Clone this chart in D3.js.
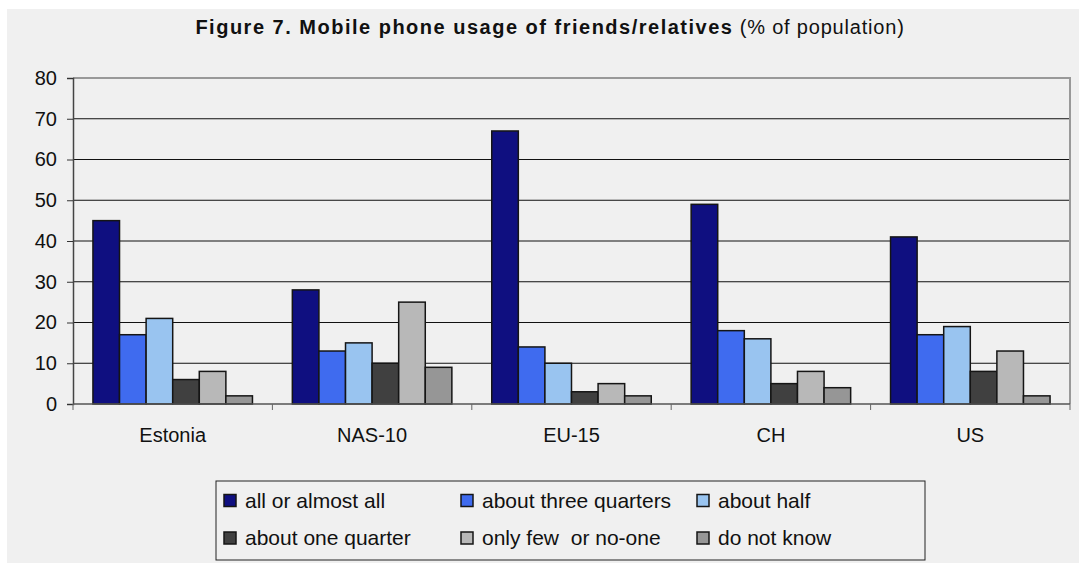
<!DOCTYPE html>
<html>
<head>
<meta charset="utf-8">
<script src="https://cdn.jsdelivr.net/npm/d3@7"></script>
<style>
  html, body { margin: 0; padding: 0; background: #ffffff; }
  svg { display: block; }
  text { font-family: "Liberation Sans", Arial, sans-serif; fill: #111; }
</style>
</head>
<body>
<svg id="chart" width="1079" height="564"></svg>
<script>
// Share of population by how many friends/relatives use a mobile phone
const categories = ["Estonia", "NAS-10", "EU-15", "CH", "US"];
const seriesNames = ["all or almost all", "about three quarters", "about half",
                     "about one quarter", "only few  or no-one", "do not know"];
const allOrAlmostAll   = [45, 28, 67, 49, 41];
const threeQuarters    = [17, 13, 14, 18, 17];
const aboutHalf        = [21, 15, 10, 16, 19];
const oneQuarter       = [6, 10, 3, 5, 8];
const fewOrNoOne       = [8, 25, 5, 8, 13];
const doNotKnow        = [2, 9, 2, 4, 2];
const yTicks = [0, 10, 20, 30, 40, 50, 60, 70, 80];
const colors = ["#0f0f80", "#3f6bef", "#99c4f0", "#404040", "#b8b8b8", "#969696"];

const seriesValues = [allOrAlmostAll, threeQuarters, aboutHalf, oneQuarter, fewOrNoOne, doNotKnow];
const rows = categories.map((c, i) => ({
  category: c,
  values: seriesValues.map((vals, s) => ({ series: seriesNames[s], idx: s, value: vals[i] }))
}));

const svg = d3.select("#chart");

// panel background
svg.append("rect").attr("x", 7).attr("y", 9).attr("width", 1072).attr("height", 554)
  .attr("fill", "#f0f0f0");

// title
const title = svg.append("text").attr("x", 550).attr("y", 34).attr("text-anchor", "middle")
  .style("font-size", "20px");
title.append("tspan").attr("font-weight", "bold").style("letter-spacing", "1.5px")
  .text("Figure 7. Mobile phone usage of friends/relatives");
title.append("tspan").style("letter-spacing", "0.8px").text(" (% of population)");

const plot = { left: 73, right: 1070, top: 78, bottom: 404 };

const x0 = d3.scaleBand().domain(categories).range([plot.left, plot.right])
  .paddingInner(0).paddingOuter(0);
const x1 = d3.scaleBand().domain(d3.range(seriesNames.length))
  .range([x0.bandwidth() * 0.1, x0.bandwidth() * 0.9]).padding(0);
const y = d3.scaleLinear().domain([0, 80]).range([plot.bottom, plot.top]);

// gridlines
svg.append("g").selectAll("line").data(yTicks.filter(t => t > 0 && t < 80)).join("line")
  .attr("x1", plot.left).attr("x2", plot.right)
  .attr("y1", d => y(d)).attr("y2", d => y(d))
  .attr("stroke", "#111").attr("stroke-width", 1);

// plot frame top and right
svg.append("path")
  .attr("d", `M${plot.left},${y(80)}H${plot.right}V${plot.bottom}`)
  .attr("fill", "none").attr("stroke", "#999").attr("stroke-width", 2);

// bars
svg.append("g").selectAll("g").data(rows).join("g")
  .attr("transform", d => `translate(${x0(d.category)},0)`)
  .selectAll("rect").data(d => d.values).join("rect")
  .attr("x", d => x1(d.idx))
  .attr("y", d => y(d.value))
  .attr("width", x1.bandwidth())
  .attr("height", d => y(0) - y(d.value))
  .attr("fill", d => colors[d.idx])
  .attr("stroke", "#151515").attr("stroke-width", 1.5);

// y axis
const yAxis = d3.axisLeft(y).tickValues(yTicks).tickSize(6).tickPadding(10);
const gy = svg.append("g").attr("transform", `translate(${plot.left},0)`).call(yAxis);
gy.select(".domain").attr("stroke", "#444").attr("stroke-width", 1.5);
gy.selectAll(".tick line").attr("stroke", "#333");
gy.selectAll(".tick text").style("font-size", "20px").attr("fill", "#111")
  .style("font-family", "'Liberation Sans', Arial, sans-serif");

// x axis with ticks at category boundaries
svg.append("line").attr("x1", plot.left).attr("x2", plot.right)
  .attr("y1", plot.bottom).attr("y2", plot.bottom)
  .attr("stroke", "#555").attr("stroke-width", 1.5);
const boundaries = categories.map(c => x0(c)).concat([plot.right]);
svg.append("g").selectAll("line").data(boundaries).join("line")
  .attr("x1", d => d).attr("x2", d => d)
  .attr("y1", plot.bottom).attr("y2", plot.bottom + 6)
  .attr("stroke", "#666").attr("stroke-width", 1);
svg.append("g").selectAll("text").data(categories).join("text")
  .attr("x", d => x0(d) + x0.bandwidth() / 2).attr("y", 442)
  .attr("text-anchor", "middle").style("font-size", "20px")
  .text(d => d);

// legend
const legend = svg.append("g");
legend.append("rect").attr("x", 216).attr("y", 481).attr("width", 709).attr("height", 79)
  .attr("fill", "#f0f0f0").attr("stroke", "#222").attr("stroke-width", 1);
const colX = [224, 461, 697];
const rowY = [500.5, 538];
const items = legend.selectAll("g").data(seriesNames).join("g")
  .attr("transform", (d, i) => `translate(${colX[i % 3]},${rowY[Math.floor(i / 3)]})`);
items.append("rect").attr("x", 0).attr("y", -6).attr("width", 12).attr("height", 12)
  .attr("fill", (d, i) => colors[i]).attr("stroke", "#151515").attr("stroke-width", 1.5);
items.append("text").attr("x", 21).attr("y", 7).style("font-size", "21px")
  .attr("xml:space", "preserve").style("white-space", "pre")
  .text(d => d);
</script>
</body>
</html>
